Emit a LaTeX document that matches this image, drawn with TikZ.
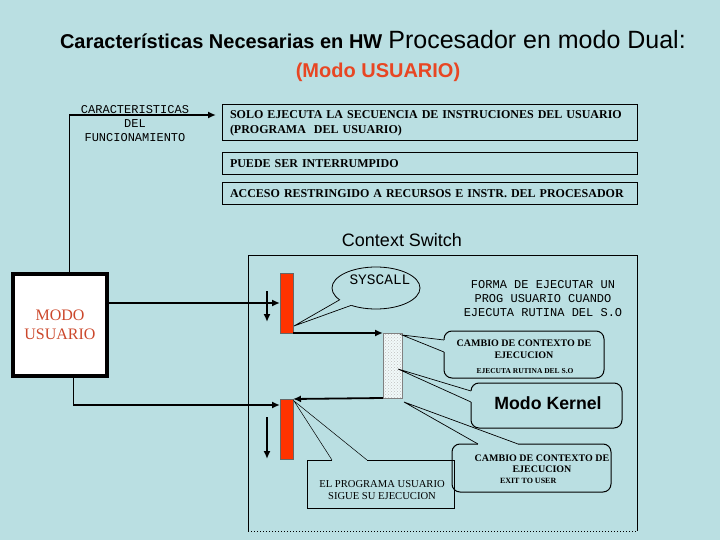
\documentclass[tikz,border=0pt]{standalone}
\usepackage{fontspec}
\setmainfont{Liberation Serif}
\setsansfont{Liberation Sans}
\setmonofont{Liberation Mono}
\usetikzlibrary{patterns,arrows.meta,shapes.geometric,calc}
\definecolor{bgc}{RGB}{186,223,226}
\definecolor{barred}{RGB}{255,51,0}
\definecolor{titlered}{RGB}{232,70,35}
\definecolor{modored}{RGB}{204,72,44}
\begin{document}
\begin{tikzpicture}[x=1pt,y=-1pt,
  every node/.style={inner sep=0pt,outer sep=0pt},
  plainbox/.style={draw=black,line width=1pt,rectangle},
  callbox/.style={draw=black,line width=1pt,rectangle,rounded corners=8pt},
  tailline/.style={draw=black,line width=0.7pt},
  bigarrow/.style={line width=1.8pt,-{Latex[length=8pt,width=7pt]}},
  thinwire/.style={line width=0.9pt},
  procbar/.style={draw=black!60,line width=0.5pt,fill=barred,minimum width=13pt,minimum height=60pt,anchor=north west},
  serifbox/.style={font=\rmfamily\bfseries\fontsize{12}{15}\selectfont},
  monotext/.style={font=\ttfamily\fontsize{12}{14}\selectfont,align=center},
  calltitle/.style={font=\rmfamily\bfseries\fontsize{10}{12}\selectfont},
]
\fill[bgc] (0,0) rectangle (720,540);
\useasboundingbox (0,0) rectangle (720,540);

% titles
\node[anchor=base west,font=\sffamily\bfseries\fontsize{20}{23}\selectfont] (t1) at (60,49) {Características Necesarias en HW};
\node[anchor=base west,font=\sffamily\fontsize{25}{30}\selectfont] (t2) at ([xshift=6pt]t1.base east) {Procesador en modo Dual:};
\node[anchor=base,font=\sffamily\bfseries\fontsize{20}{24}\selectfont,text=titlered] (t3) at (378,78) {(Modo USUARIO)};

% characteristics
\node[monotext] (car) at (135,124) {CARACTERISTICAS\\DEL\\FUNCIONAMIENTO};
\node[plainbox,anchor=north west,minimum width=415pt,minimum height=36pt,text width=399pt,align=left,inner xsep=8pt,serifbox] (b1) at (222,105) {SOLO EJECUTA LA SECUENCIA DE INSTRUCIONES DEL USUARIO\\(PROGRAMA~~DEL USUARIO)};
\node[plainbox,anchor=north west,minimum width=415pt,minimum height=22pt,text width=399pt,align=left,inner xsep=8pt,serifbox] (b2) at (222,153) {PUEDE SER INTERRUMPIDO};
\node[plainbox,anchor=north west,minimum width=415pt,minimum height=22pt,text width=399pt,align=left,inner xsep=8pt,serifbox] (b3) at (222,183) {ACCESO RESTRINGIDO A RECURSOS E INSTR. DEL PROCESADOR};

% modo usuario
\node[draw=black,line width=4pt,fill=white,minimum width=94pt,minimum height=102pt,text=modored,font=\rmfamily\fontsize{16}{19}\selectfont,align=center] (mu) at (60,325) {MODO\\USUARIO};

% context switch frame
\node[font=\sffamily\fontsize{18}{21}\selectfont] (cs) at (402,240) {Context Switch};
\coordinate (fr1) at (248,531);
\coordinate (fr2) at (248,255);
\coordinate (fr3) at (637,255);
\coordinate (fr4) at (637,531);
\draw[line width=1pt] (fr1) -- (fr2) -- (fr3) -- (fr4);
\draw[line width=1pt,dotted] (fr1) -- (fr4);

% bars
\node[procbar] (bar1) at (280,273) {};
\node[procbar] (bar2) at (280,399) {};
\node[anchor=north west,minimum width=19pt,minimum height=65pt,draw=black!50,line width=0.4pt,preaction={fill=white!80!bgc},pattern=crosshatch dots,pattern color=black!25] (chk) at (383,333) {};

% wires
\coordinate (k0) at (69,115);
\coordinate (k1) at (73,405);
\coordinate (y303) at (0,303);
\draw[thinwire] (mu.north -| k0) -- (k0);
\draw[bigarrow] (k0) -- ([xshift=-6pt]b1.west |- k0);
\draw[bigarrow] (mu.east |- y303) -- (bar1.west |- y303);
\draw[thinwire] (mu.south -| k1) -- (k1);
\draw[bigarrow] (k1) -- (bar2.west |- k1);
\coordinate (d1s) at (267,291);
\coordinate (d1e) at (267,322);
\coordinate (d2s) at (267,417);
\coordinate (d2e) at (267,459);
\draw[bigarrow] (d1s) -- (d1e);
\draw[bigarrow] (d2s) -- (d2e);
\draw[bigarrow] (bar1.south east) -- (chk.north west);
\draw[bigarrow] (chk.south west) -- (bar2.north east);

% syscall bubble
\node[draw=black,line width=0.8pt,ellipse,minimum width=88pt,minimum height=42pt] (sys) at (376,288) {};
\node[font=\ttfamily\fontsize{14.5}{16}\selectfont] (syst) at (380,280) {SYSCALL};
\coordinate (sysa) at (sys.198);
\coordinate (sysb) at (sys.215);
\coordinate (systip) at ([xshift=1pt,yshift=7pt]bar1.south east);
\fill[bgc] (sys.center) -- ($(sys.center)!1.2!(sysa)$) -- ($(sys.center)!1.2!(sysb)$) -- cycle;
\draw[tailline] (sysa) -- (systip) -- (sysb);

% forma text
\node[monotext] (forma) at (543,299) {FORMA DE EJECUTAR UN\\PROG USUARIO CUANDO\\EJECUTA RUTINA DEL S.O};

% callout 1
\node[callbox,minimum width=160pt,minimum height=47pt] (cc1) at (524,354.5) {};
\node[calltitle] (cc1a) at (524,343) {CAMBIO DE CONTEXTO DE};
\node[calltitle] (cc1b) at (524,355) {EJECUCION};
\node[font=\rmfamily\bfseries\fontsize{7.5}{9}\selectfont] (cc1c) at (525,371) {EJECUTA RUTINA DEL S.O};
\coordinate (cc1p) at ([yshift=-9pt]cc1.north west);
\coordinate (cc1q) at ([yshift=-21pt]cc1.north west);
\coordinate (cc1tip) at ([yshift=-2pt]chk.north east);
\fill[bgc] ([xshift=-0.8pt]cc1p) rectangle ([xshift=0.8pt]cc1q);
\draw[tailline] (cc1p) -- (cc1tip) -- (cc1q);

% callout 2 modo kernel
\node[callbox,minimum width=151pt,minimum height=45pt] (mk) at (546.5,405.5) {};
\node[font=\sffamily\bfseries\fontsize{17.7}{20}\selectfont] (mkt) at (548,403) {Modo Kernel};
\coordinate (mkp) at ([yshift=-8pt]mk.north west);
\coordinate (mkq) at ([yshift=-19pt]mk.north west);
\coordinate (mktip) at ([xshift=-4pt,yshift=-3.5pt]chk.east);
\fill[bgc] ([xshift=-0.8pt]mkp) rectangle ([xshift=0.8pt]mkq);
\draw[tailline] (mkp) -- (mktip) -- (mkq);

% callout 3 exit to user
\node[callbox,minimum width=159pt,minimum height=48pt] (cc3) at (531.5,468) {};
\node[calltitle] (cc3a) at (542,458) {CAMBIO DE CONTEXTO DE};
\node[calltitle] (cc3b) at (542,469) {EJECUCION};
\node[font=\rmfamily\bfseries\fontsize{8}{9}\selectfont,anchor=west] (cc3c) at (500,481) {EXIT TO USER};
\coordinate (cc3p) at ([xshift=26pt]cc3.north west);
\coordinate (cc3q) at ([xshift=66pt]cc3.north west);
\coordinate (cc3tip) at ([xshift=2pt,yshift=-4pt]chk.south east);
\fill[bgc] ([yshift=0.8pt]cc3p) rectangle ([yshift=-0.8pt]cc3q);
\draw[tailline] (cc3p) -- (cc3tip) -- (cc3q);

% callout 4 el programa usuario
\node[plainbox,minimum width=147pt,minimum height=48pt] (ep) at (380.5,484) {};
\node[font=\rmfamily\fontsize{10.6}{12}\selectfont,align=center] (ept) at (382,490) {EL PROGRAMA USUARIO\\SIGUE SU EJECUCION};
\coordinate (epp) at ([xshift=25pt]ep.north west);
\coordinate (epq) at ([xshift=60pt]ep.north west);
\coordinate (eptip) at ([xshift=1pt,yshift=-2pt]bar2.north east);
\fill[bgc] ([yshift=0.8pt]epp) rectangle ([yshift=-0.8pt]epq);
\draw[tailline,line width=0.5pt] (epp) -- (eptip) -- (epq);
\end{tikzpicture}
\end{document}
